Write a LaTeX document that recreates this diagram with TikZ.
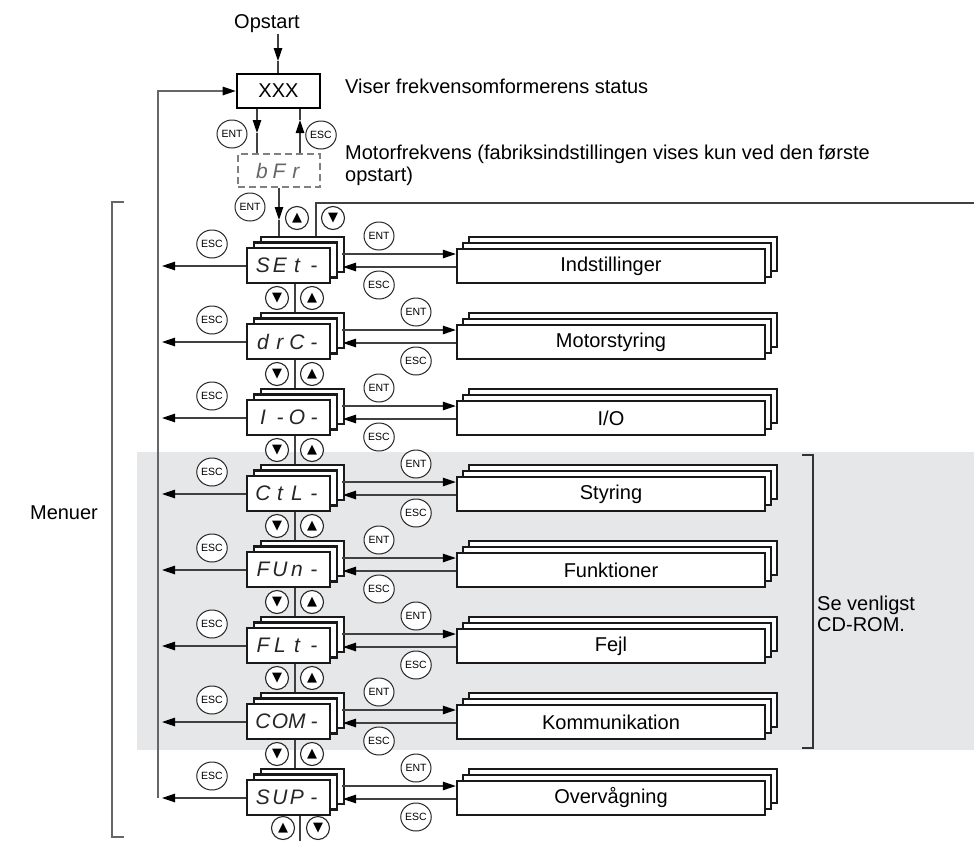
\documentclass[tikz,border=0pt]{standalone}
\usepackage{fontspec}
\setmainfont{Liberation Sans}
\newfontfamily\dejavu{DejaVu Sans}
\usetikzlibrary{arrows.meta,shapes.geometric}
\definecolor{bggray}{HTML}{E6E7E8}
\newcommand\sg[1]{\makebox[17pt]{#1}}
\newcommand\segfnt{\itshape\fontsize{21}{21}\selectfont}
\newcommand\lstack[3]{%
  \node[lbox] (#1-b) at (302.5,#2+6.5) {};
  \node[lbox] (#1-m) at (295.5,#2+12) {};
  \node[lbox,font=\segfnt,text=black!85] (#1) at (288.5,#2+17.5) {#3};
}
\newcommand\rstack[3]{%
  \node[rbox] (#1-b) at (623,#2+6) {};
  \node[rbox] (#1-m) at (617,#2+12) {};
  \node[rbox] (#1) at (611,#2+18) {#3};
}
\tikzset{
  lay/.style={draw=black!90, line width=2.4pt, fill=white, inner sep=0pt},
  lbox/.style={lay, minimum width=83pt, minimum height=35pt},
  rbox/.style={lay, minimum width=308pt, minimum height=34pt, font=\fontsize{20}{22}\selectfont},
  btn/.style={ellipse, draw=black!85, line width=1pt, fill=white, minimum width=30pt, minimum height=28pt, inner sep=0pt, font=\fontsize{10.5}{10.5}\selectfont},
  abtn/.style={circle, draw=black!85, line width=1.1pt, fill=white, minimum size=23pt, inner sep=0pt, font={\dejavu\fontsize{13}{13}\selectfont}},
  conn/.style={draw=black!75, line width=1.2pt},
  arr/.style={conn, -{Triangle[length=13pt,width=8.5pt,color=black]}},
  txt/.style={font=\fontsize{20}{22}\selectfont, inner sep=0pt},
  grayline/.style={draw=black!60, line width=1.3pt},
}
\begin{document}
\begin{tikzpicture}[x=1pt,y=-1pt]
\useasboundingbox (0,0) rectangle (974,841);
\fill[bggray] (137,452) rectangle (974,750);

% top part
\node[txt, anchor=base] (op) at (267,28) {Opstart};
\node[draw=black, line width=2.6pt, minimum width=83pt, minimum height=34pt, txt] (xxx) at (278.5,91) {XXX};
\node[txt, anchor=base west] (viser) at (345,93) {Viser frekvensomformerens status};
\node[txt, anchor=base west] (mot1) at (345,159) {Motorfrekvens (fabriksindstillingen vises kun ved den første};
\node[txt, anchor=base west] (mot2) at (345,181) {opstart)};
\node[draw=black!50, dash pattern=on 7pt off 4pt, line width=1.3pt, minimum width=82pt, minimum height=33pt, inner sep=0pt, font=\segfnt, text=black!60] (bfr) at (279,170.5) {\sg{b}\sg{F}\sg{r}};

\coordinate (o1) at (278,34);
\coordinate (o2) at (278,61);
\draw[arr] (o1) -- (o2);
\draw[conn] (o2) -- (xxx.north -| o2);

\coordinate (d1) at (257,133);
\draw[arr] (xxx.south -| d1) -- (d1);
\draw[conn] (d1) -- (bfr.north -| d1);
\coordinate (u1) at (300,120);
\draw[arr] (bfr.north -| u1) -- (u1);
\draw[conn] (u1) -- (xxx.south -| u1);
\node[btn] (entx) at (232,134) {ENT};
\node[btn] (escx) at (321,135) {ESC};

% stacks
\foreach \i/\cd/\lab in {
  0/{\sg{S}\sg{E}\sg{t}\sg{-}}/Indstillinger,
  1/{\sg{d}\sg{r}\sg{C}\sg{-}}/Motorstyring,
  2/{\sg{I}\sg{-}\sg{O}\sg{-}}/{I/O},
  3/{\sg{C}\sg{t}\sg{L}\sg{-}}/Styring,
  4/{\sg{F}\sg{U}\sg{n}\sg{-}}/Funktioner,
  5/{\sg{F}\sg{L}\sg{t}\sg{-}}/Fejl,
  6/{\sg{C}\sg{O}\sg{M}\sg{-}}/Kommunikation,
  7/{\sg{S}\sg{U}\sg{P}\sg{-}}/Overvågning} {
  \pgfmathsetmacro\T{248+76*\i}
  \pgfmathsetmacro\cx{mod(\i,2)==0 ? 379 : 416}
  \lstack{L\i}{\T}{\cd}
  \rstack{R\i}{\T}{\lab}
  \coordinate (la\i) at (162,\T+18);
  \draw[arr] (L\i.west |- la\i) -- (la\i);
  \coordinate (ea\i) at (342,\T+6);
  \draw[arr] (ea\i) -- (R\i.west |- ea\i);
  \coordinate (eb\i) at (343,\T+19);
  \draw[arr] (R\i.west |- eb\i) -- (eb\i);
  \node[btn] (el\i) at (212,\T-4) {ESC};
  \node[btn] (en\i) at (\cx,\T-12) {ENT};
  \node[btn] (es\i) at (\cx,\T+37) {ESC};
  \ifnum\i<7
    \coordinate (v\i) at (295,\T+65);
    \draw[conn] (L\i.south -| v\i) -- (v\i);
    \node[abtn] (dn\i) at (277,\T+50) {▼};
    \node[abtn] (up\i) at (312,\T+50) {▲};
  \fi
}

% bFr to SET
\coordinate (b1) at (279,220);
\draw[arr] (bfr.south -| b1) -- (b1);
\draw[conn] (b1) -- (L0-b.north -| b1);
\node[btn] (entb) at (250,207) {ENT};
\node[abtn] (upt) at (297,218) {▲};
\node[abtn] (dnt) at (333,218) {▼};
\coordinate (t1) at (316,203);
\coordinate (tr) at (974,203);
\draw[conn] (L0-b.north -| t1) -- (t1) -- (tr);

% return line
\coordinate (ret) at (158,798);
\draw[grayline, -{Triangle[length=13pt,width=8.5pt,color=black]}] (ret) |- (xxx.west);

% bottom
\coordinate (bt) at (300,841);
\draw[conn] (L7.south -| bt) -- (bt);
\node[abtn] (upb) at (283,828) {▲};
\node[abtn] (dnb) at (318,828) {▼};

% brackets
\draw[grayline] (124,202) -- (112,202) -- (112,837) -- (124,837);
\node[txt, anchor=base] (menu) at (64,519) {Menuer};
\draw[draw=black!80, line width=1.1pt] (802,455) -- (813,455) -- (813,748) -- (802,748);
\node[txt, anchor=base west] (se1) at (817,610) {Se venligst};
\node[txt, anchor=base west] (se2) at (817,631) {CD-ROM.};
\end{tikzpicture}
\end{document}
